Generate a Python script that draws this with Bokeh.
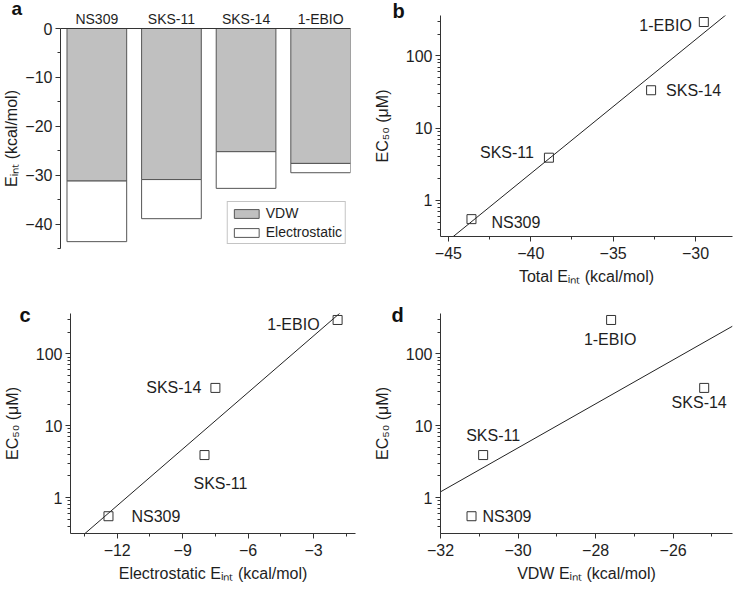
import numpy as np
from bokeh.plotting import figure
from bokeh.models import (Range1d, FixedTicker, SingleIntervalTicker, Legend,
                          LegendItem, PrintfTickFormatter, ColumnDataSource)
from bokeh.layouts import row, column
from bokeh.embed import file_html
from bokeh.resources import INLINE
from bokeh.core.properties import value

# ---------------- data ----------------
compounds = ["NS309", "SKS-11", "SKS-14", "1-EBIO"]
vdw_energy = [-31.2, -30.9, -25.2, -27.6]        # kcal/mol
elec_energy = [-12.4, -8.0, -7.5, -1.9]          # kcal/mol
total_energy = [-43.6, -38.9, -32.7, -29.5]      # kcal/mol
ec50_um = [0.55, 3.9, 33.5, 295.0]               # uM

bar_ticks = [0, -10, -20, -30, -40]
log_ticks = [1, 10, 100]

# ---------------- styling ----------------
FONT = "Liberation Sans"
TXT = "#1e1e1e"
AX = "#333333"
LOG_LO, LOG_HI = -0.5, 2.56


def style_axis(ax, size="16px"):
    ax.axis_line_color = AX
    ax.major_tick_line_color = AX
    ax.minor_tick_line_color = AX
    ax.major_tick_in = 0
    ax.major_tick_out = 5
    ax.minor_tick_in = 0
    ax.minor_tick_out = 3
    ax.major_label_text_font = FONT
    ax.major_label_text_font_size = size
    ax.major_label_text_color = TXT
    ax.axis_label_text_font = FONT
    ax.axis_label_text_font_size = "16px"
    ax.axis_label_text_font_style = "normal"
    ax.axis_label_text_color = TXT


def style_letter(p, offset, standoff, size="20px"):
    """Panel letter drawn as the figure title, pulled left of the frame."""
    t = p.title
    t.text_font = FONT
    t.text_font_size = size
    t.text_font_style = "bold"
    t.text_color = "#111111"
    t.align = "left"
    t.vertical_align = "bottom"
    t.offset = offset
    t.standoff = standoff


# ---------------- panel a: stacked bars ----------------
pos = list(range(1, len(compounds) + 1))
pa = figure(width=370, height=296, output_backend="svg", toolbar_location=None,
            title="a",
            x_range=Range1d(0.513, 4.4), y_range=Range1d(-45, 0),
            x_axis_location="above", frame_align=False,
            min_border_left=59, min_border_right=20, min_border_top=28, min_border_bottom=48)
pa.grid.visible = False
pa.outline_line_color = None
pa.background_fill_color = "white"
style_letter(pa, -49, -22, "19px")

src_a = ColumnDataSource(dict(x=pos, zero=[0] * len(pos), vdw=vdw_energy, total=total_energy))
r_vdw = pa.vbar(x="x", width=0.8, top="zero", bottom="vdw", source=src_a,
                fill_color="#c0c0c0", line_color="#555555", line_width=1)
r_ele = pa.vbar(x="x", width=0.8, top="vdw", bottom="total", source=src_a,
                fill_color="white", line_color="#555555", line_width=1)

style_axis(pa.xaxis[0], "14px")
pa.xaxis.ticker = FixedTicker(ticks=pos)
pa.xaxis.major_label_overrides = {p: c for p, c in zip(pos, compounds)}
pa.xaxis.major_tick_out = 0
pa.xaxis.minor_tick_out = 0
pa.xaxis.major_label_standoff = 2

style_axis(pa.yaxis[0])
pa.yaxis.ticker = FixedTicker(ticks=bar_ticks,
                              minor_ticks=[t - 5 for t in bar_ticks])
pa.yaxis.axis_label = "Eᵢₙₜ (kcal/mol)"
pa.yaxis.axis_label_standoff = 2
pa.yaxis.major_label_standoff = 3

legend = Legend(items=[LegendItem(label="VDW", renderers=[r_vdw]),
                       LegendItem(label="Electrostatic", renderers=[r_ele])],
                location="bottom_right", margin=4, padding=3, spacing=3,
                glyph_width=31, glyph_height=11, label_standoff=4,
                label_text_font=FONT, label_text_font_size="14px", label_text_color=TXT,
                border_line_color="#8a8a8a", border_line_width=1,
                background_fill_color="white", background_fill_alpha=1.0)
pa.add_layout(legend)


# ---------------- scatter panels ----------------
def scatter_panel(xvals, xlabel, xrange, interval, aligns, dx, dy, letter, lpos, borders):
    bl, br, bt, bb, w, h = borders
    p = figure(width=w, height=h, output_backend="svg", toolbar_location=None,
               title=letter,
               y_axis_type="log", x_range=Range1d(*xrange),
               y_range=Range1d(10 ** LOG_LO, 10 ** LOG_HI),
               frame_align=False,
               min_border_left=bl, min_border_right=br, min_border_top=bt, min_border_bottom=bb)
    p.grid.visible = False
    p.outline_line_color = None
    style_letter(p, *lpos)

    style_axis(p.xaxis[0])
    style_axis(p.yaxis[0])
    p.xaxis.ticker = SingleIntervalTicker(interval=interval, num_minor_ticks=2)
    p.xaxis.axis_label = xlabel
    p.xaxis.axis_label_standoff = 6
    p.xaxis.major_label_standoff = 5

    minor = [m * 10.0 ** e for e in (-1, 0, 1, 2) for m in range(2, 10)]
    p.yaxis.ticker = FixedTicker(ticks=log_ticks, minor_ticks=minor)
    p.yaxis.formatter = PrintfTickFormatter(format="%d")
    p.yaxis.axis_label = "EC₅₀ (μM)"
    p.yaxis.axis_label_standoff = 12
    p.yaxis.major_label_standoff = 3

    # linear fit of log10(EC50) against the energy
    slope, icpt = np.polyfit(np.array(xvals), np.log10(np.array(ec50_um)), 1)
    xs = np.array(xrange, dtype=float)
    p.line(xs, 10 ** (slope * xs + icpt), line_color="#222222", line_width=1)

    p.scatter(xvals, ec50_um, marker="square", size=9, fill_color=None,
              line_color="#333333", line_width=1)

    for al in ("left", "center", "right"):
        idx = [i for i, a in enumerate(aligns) if a == al]
        if not idx:
            continue
        p.text(x=[xvals[i] for i in idx], y=[ec50_um[i] for i in idx],
               text=[compounds[i] for i in idx],
               x_offset=[dx[i] for i in idx], y_offset=[dy[i] for i in idx],
               text_align=al, text_baseline="middle",
               text_font=value(FONT), text_font_size="16px", text_color=TXT)
    return p


pb = scatter_panel(total_energy, "Total Eᵢₙₜ (kcal/mol)", (-45.48, -27.76), 5,
                   ["left", "right", "left", "right"],
                   [20, -15, 15, -12], [3, -5, 0, 3],
                   "b", (-48, -12), (70, 2, 15, 60, 364, 296))
pc = scatter_panel(elec_energy, "Electrostatic Eᵢₙₜ (kcal/mol)", (-14.14, -1.08), 3,
                   ["left", "center", "right", "right"],
                   [23, 16, -14, -18], [0, 28, 0, 5],
                   "c", (-51, -24), (56, 15, 17, 53, 370, 290))
pd_ = scatter_panel(vdw_energy, "VDW Eᵢₙₜ (kcal/mol)", (-32.0, -24.47), 2,
                    ["left", "center", "center", "center"],
                    [11, 10, -5, -1], [0, -20, 15, 20],
                    "d", (-49, -24), (70, 2, 17, 53, 364, 290))

layout = column(row(pa, pb), row(pc, pd_))

open("out.html", "w").write(file_html(layout, INLINE))
